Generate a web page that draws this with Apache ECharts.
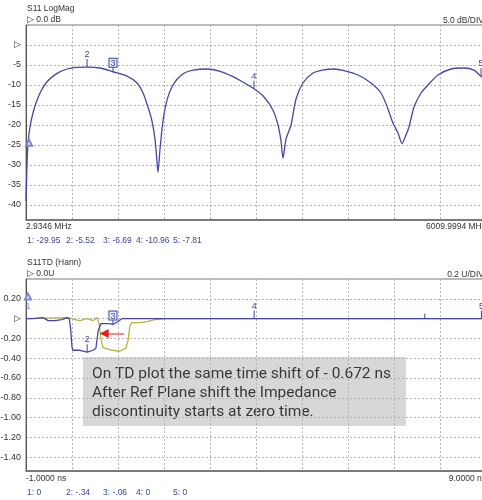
<!DOCTYPE html>
<html>
<head>
<meta charset="utf-8">
<script src="https://cdn.jsdelivr.net/npm/echarts@6/dist/echarts.min.js"></script>
<style>
  html, body { margin: 0; padding: 0; background: #fff; }
  #chart { width: 482px; height: 500px; }
</style>
</head>
<body>
<div id="chart"></div>
<script>
// ---- S11 LogMag sweep (frequency in MHz, magnitude in dB) ----
const freqMHz = [2.93, 16, 29, 55, 81, 120, 186, 277, 408, 538, 669, 800, 969, 1139, 1322, 1452, 1531, 1596,
  1648, 1687, 1713, 1726, 1753, 1792, 1844, 1923, 2040, 2184, 2367, 2536, 2693, 2811, 2980, 3111, 3228, 3294,
  3333, 3359, 3398, 3464, 3529, 3620, 3751, 3895, 4025, 4156, 4339, 4508, 4639, 4730, 4795, 4861, 4913, 4965,
  5004, 5070, 5161, 5252, 5383, 5553, 5723, 5853, 5945, 6010];
const s11dB = [-39, -29.95, -24.5, -20.5, -18, -15.3, -12, -9.2, -7.1, -6.0, -5.6, -5.52, -5.75, -6.69, -7.8, -9.5, -12, -15.5,
  -19, -23.5, -29, -31.8, -26, -19, -13.8, -10, -7.4, -6.3, -6.0, -6.6, -7.8, -9.0, -10.96, -13, -16.3, -20,
  -24, -28.3, -23.5, -20, -13.5, -9.5, -7, -6.2, -6.0, -6.4, -7.5, -9.5, -12, -16, -19.5, -22, -24.6, -22.5,
  -20.5, -15.5, -12, -10, -7.5, -6, -5.75, -6.3, -7.81, -8.6];

const logMagMarkerNames = ['1', '2', '3', '4', '5'];
const logMagMarkerFreq = [16, 800, 1139, 2980, 5945];
const logMagMarkerDb = [-29.95, -5.52, -6.69, -10.96, -7.81];
const logMagTicks = [0, -5, -10, -15, -20, -25, -30, -35, -40];
const freqStart = 2.9346, freqStop = 6009.9994;

// ---- S11 time domain (Hann window), time in ns ----
const tdTimeNs = [-1.0, -0.85, -0.63, -0.52, -0.37, -0.22, -0.11, -0.06, -0.03, 0.0, 0.02, 0.17, 0.33, 0.46, 0.52,
  0.57, 0.63, 0.67, 0.83, 0.89, 1.0, 1.09, 1.3, 2, 3, 3.96, 5, 6, 7, 7.67, 8, 8.9, 9.0];
const tdShiftedU = [0, 0, 0.01, -0.02, -0.02, -0.01, 0.01, 0, -0.1, -0.29, -0.32, -0.32, -0.34, -0.32, -0.3,
  -0.12, -0.05, -0.04, -0.05, -0.06, -0.03, 0, 0, 0, 0, 0, 0, 0, 0, 0, 0, 0, 0];
const tdRawTimeNs = [-1.0, -0.09, 0.07, 0.17, 0.33, 0.46, 0.54, 0.59, 0.63, 0.67, 0.72, 0.89, 1.04, 1.17, 1.22,
  1.26, 1.30, 1.48, 1.63, 1.80, 2.07, 2.35, 9.0];
const tdRawU = [0, 0.01, -0.01, -0.02, 0.0, -0.02, 0.01, -0.05, -0.2, -0.29, -0.30, -0.32, -0.33, -0.30, -0.22,
  -0.07, -0.04, -0.04, -0.03, -0.01, 0, 0, 0];

const tdMarkerNames = ['1', '2', '3', '4', '5'];
const tdMarkerTime = [-1.0, 0.33, 0.89, 3.96, 8.9];
const tdMarkerU = [0, -0.34, -0.06, 0, 0];
const tdTicks = [0.2, 0, -0.2, -0.4, -0.6, -0.8, -1.0, -1.2, -1.4];
const tdTimeTicks = [-1, 0, 1, 2, 3, 4, 5, 6, 7, 8, 9];

const logMagReadout = ['1: -29.95', '2: -5.52', '3: -6.69', '4: -10.96', '5: -7.81'];
const tdReadout = ['1: 0', '2: -.34', '3: -.06', '4: 0', '5: 0'];
const noteLines = [
  'On TD plot the same time shift of - 0.672 ns',
  'After Ref Plane shift the Impedance',
  'discontinuity starts at zero time.'
];

// ---- styling ----
const TRACE = '#4646a8';
const TRACE_RAW = '#b4b43c';
const MARK = '#3c46a0';
const MARK1 = '#7a88d0';
const AXIS_TXT = '#333';
const FONT = '"Liberation Sans", Arial, sans-serif';
const gridLine = { show: true, lineStyle: { color: '#b4b4b4', type: [2, 2], width: 1 } };

const zip = (xs, ys) => xs.map((x, i) => [x, ys[i]]);

// marker 1 is an outlined triangle drawn above its point; the others are a tick with a number,
// the active marker gets its number in a box
function markerPoints(names, xs, ys, boxed, showFirstLabel) {
  return names.map((n, i) => {
    if (i === 0) {
      return {
        name: n, coord: [xs[i], ys[i]], symbol: 'emptyTriangle', symbolSize: [6, 6],
        symbolOffset: [2, -22], itemStyle: { color: MARK1, borderColor: MARK1, borderWidth: 1 },
        label: { show: showFirstLabel, position: 'bottom', distance: 1, formatter: n, color: MARK1,
          fontSize: 9, fontFamily: FONT }
      };
    }
    const isBox = n === boxed;
    return {
      name: n, coord: [xs[i], ys[i]], symbol: 'rect',
      symbolSize: [1, isBox ? 5 : 8], symbolOffset: [0, isBox ? -2.5 : -4],
      itemStyle: { color: MARK },
      label: isBox ? {
        show: true, position: 'top', distance: 0, formatter: n, color: MARK, fontSize: 9, fontFamily: FONT,
        borderColor: MARK, borderWidth: 1, padding: [0, 1, -1, 1], backgroundColor: '#eef'
      } : {
        show: true, position: 'top', distance: 0, formatter: n, color: MARK, fontSize: 9, fontFamily: FONT
      }
    };
  });
}

function readoutTexts(items, y) {
  const xs = [27, 66, 103, 136, 173];
  return items.map((t, i) => ({
    type: 'text', left: xs[i], top: y,
    style: { text: t, fill: MARK, font: '8.5px ' + FONT }
  }));
}

const chart = echarts.init(document.getElementById('chart'), null, { renderer: 'canvas' });

chart.setOption({
  animation: false,
  backgroundColor: '#fff',
  grid: [
    { left: 26, top: 25, width: 460, height: 195, show: true, borderColor: '#777', borderWidth: 1,
      outerBoundsMode: 'none', containLabel: false },
    { left: 26, top: 279, width: 460, height: 192, show: true, borderColor: '#777', borderWidth: 1,
      outerBoundsMode: 'none', containLabel: false }
  ],
  xAxis: [
    {
      type: 'value', gridIndex: 0, min: freqStart, max: freqStop,
      axisLine: { show: true, onZero: false, lineStyle: { color: '#666', width: 1.5 } },
      axisTick: { show: false, customValues: Array.from({ length: 11 }, (_, i) => freqStart + i * (freqStop - freqStart) / 10) },
      splitLine: gridLine,
      axisLabel: {
        customValues: [freqStart, freqStop], color: AXIS_TXT, fontSize: 8.5, fontFamily: FONT, margin: 2,
        alignMinLabel: 'left', alignMaxLabel: 'right',
        formatter: v => v.toFixed(4) + ' MHz'
      }
    },
    {
      type: 'value', gridIndex: 1, min: -1, max: 9,
      axisLine: { show: true, onZero: false, lineStyle: { color: '#666', width: 1.5 } },
      axisTick: { show: false, customValues: tdTimeTicks },
      splitLine: gridLine,
      axisLabel: {
        customValues: [-1, 9], color: AXIS_TXT, fontSize: 8.5, fontFamily: FONT, margin: 3,
        alignMinLabel: 'left', alignMaxLabel: 'right',
        formatter: v => v.toFixed(4) + ' ns'
      }
    }
  ],
  yAxis: [
    {
      type: 'value', gridIndex: 0, min: -43.75, max: 5,
      axisLine: { show: true, onZero: false, lineStyle: { color: '#555', width: 1 } },
      axisTick: { show: false, customValues: logMagTicks },
      splitLine: gridLine,
      axisLabel: {
        customValues: logMagTicks, color: AXIS_TXT, fontSize: 9, fontFamily: FONT, margin: 5,
        formatter: v => (v === 0 ? '\u25B7' : String(v))
      }
    },
    {
      type: 'value', gridIndex: 1, min: -1.54, max: 0.4,
      axisLine: { show: true, onZero: false, lineStyle: { color: '#555', width: 1 } },
      axisTick: { show: false, customValues: tdTicks },
      splitLine: gridLine,
      axisLabel: {
        customValues: tdTicks, color: AXIS_TXT, fontSize: 9, fontFamily: FONT, margin: 5,
        formatter: v => (Math.abs(v) < 1e-9 ? '\u25B7' : v.toFixed(2))
      }
    }
  ],
  series: [
    {
      name: 'S11 LogMag', type: 'line', xAxisIndex: 0, yAxisIndex: 0,
      data: zip(freqMHz, s11dB), showSymbol: false, smooth: 0.25,
      lineStyle: { color: TRACE, width: 1.3 },
      markPoint: { data: markerPoints(logMagMarkerNames, logMagMarkerFreq, logMagMarkerDb, '3', false) }
    },
    {
      name: 'S11TD raw', type: 'line', xAxisIndex: 1, yAxisIndex: 1,
      data: zip(tdRawTimeNs, tdRawU), showSymbol: false,
      lineStyle: { color: TRACE_RAW, width: 1.3 }
    },
    {
      name: 'S11TD (Hann)', type: 'line', xAxisIndex: 1, yAxisIndex: 1,
      data: zip(tdTimeNs, tdShiftedU), showSymbol: false,
      lineStyle: { color: TRACE, width: 1.3 },
      markPoint: {
        data: markerPoints(tdMarkerNames, tdMarkerTime, tdMarkerU, '3', true).concat([
          { name: '', coord: [7.67, 0], symbol: 'rect', symbolSize: [1, 5], symbolOffset: [0, -2.5],
            itemStyle: { color: MARK }, label: { show: false } },
          { name: 'arrowHead', coord: [0.7, -0.15], symbol: 'triangle', symbolSize: [9, 9], symbolRotate: 90,
            itemStyle: { color: '#e41e24' }, label: { show: false } }
        ])
      },
      markLine: {
        silent: true, symbol: ['none', 'none'],
        lineStyle: { color: '#f08c8c', width: 2, type: 'solid' },
        label: { show: false },
        data: [[{ coord: [1.13, -0.15] }, { coord: [0.75, -0.15] }]]
      }
    }
  ],
  graphic: [
    { type: 'text', left: 27, top: 4, style: { text: 'S11 LogMag', fill: AXIS_TXT, font: '8.5px ' + FONT } },
    { type: 'text', left: 27, top: 15, style: { text: '\u25B7 0.0 dB', fill: AXIS_TXT, font: '8.5px ' + FONT } },
    { type: 'text', right: -2, top: 16, style: { text: '5.0 dB/DIV', fill: AXIS_TXT, font: '8.5px ' + FONT } },
    ...readoutTexts(logMagReadout, 236),
    { type: 'text', left: 27, top: 258, style: { text: 'S11TD (Hann)', fill: AXIS_TXT, font: '8.5px ' + FONT } },
    { type: 'text', left: 27, top: 269, style: { text: '\u25B7 0.0U', fill: AXIS_TXT, font: '8.5px ' + FONT } },
    { type: 'text', right: -2, top: 270, style: { text: '0.2 U/DIV', fill: AXIS_TXT, font: '8.5px ' + FONT } },
    ...readoutTexts(tdReadout, 488),
    {
      type: 'group', left: 83, top: 357, children: [
        { type: 'rect', shape: { x: 0, y: 0, width: 323, height: 69 }, style: { fill: 'rgba(206,206,206,0.82)' } },
        ...noteLines.map((t, i) => ({
          type: 'text', x: 9, y: 9 + i * 19,
          style: { text: t, fill: '#383838', font: '15.5px Roboto, "Noto Sans", sans-serif' }
        }))
      ]
    }
  ]
});
</script>
</body>
</html>
